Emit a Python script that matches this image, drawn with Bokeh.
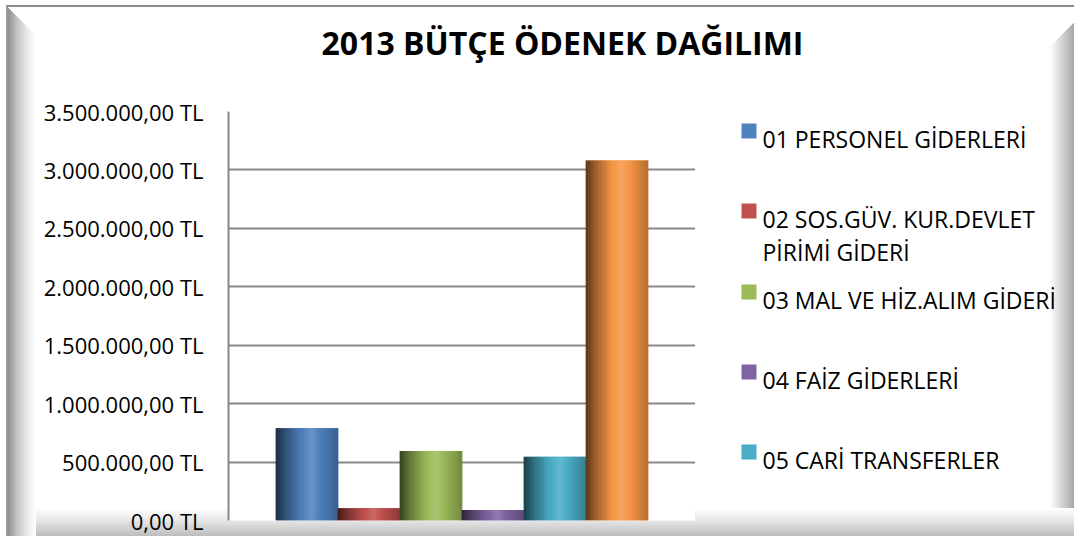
from bokeh.plotting import figure
from bokeh.layouts import column, row
from bokeh.models import Range1d, FixedTicker, ColumnDataSource
from bokeh.core.properties import value
from bokeh.embed import file_html
from bokeh.resources import INLINE

# ---------------- data ----------------
title_text = "2013 BÜTÇE ÖDENEK DAĞILIMI"
categories = ["01 PERSONEL GİDERLERİ", "02 SOS.GÜV. KUR.DEVLET PİRİMİ GİDERİ",
              "03 MAL VE HİZ.ALIM GİDERİ", "04 FAİZ GİDERLERİ",
              "05 CARİ TRANSFERLER", "06 SERMAYE GİDERLERİ"]
values = [790000, 105000, 595000, 90000, 545000, 3080000]
colors = ["#4F81BD", "#C0504D", "#9BBB59", "#8064A2", "#4BACC6", "#F79646"]
# legend of the reference: first five series, the second label wrapped on two lines
legend_lines = [["01 PERSONEL GİDERLERİ"],
                ["02 SOS.GÜV. KUR.DEVLET", "PİRİMİ GİDERİ"],
                ["03 MAL VE HİZ.ALIM GİDERİ"],
                ["04 FAİZ GİDERLERİ"],
                ["05 CARİ TRANSFERLER"]]
y_ticks = [0, 500000, 1000000, 1500000, 2000000, 2500000, 3000000, 3500000]
y_tick_labels = ["0,00 TL", "500.000,00 TL", "1.000.000,00 TL", "1.500.000,00 TL",
                 "2.000.000,00 TL", "2.500.000,00 TL", "3.000.000,00 TL", "3.500.000,00 TL"]

FONT = "Open Sans"
GRID = "#888888"


def bare(fig):
    fig.outline_line_color = None
    fig.background_fill_alpha = 0
    fig.border_fill_alpha = 0
    fig.axis.visible = False
    fig.grid.visible = False
    return fig


# ---------------- title strip ----------------
pt = bare(figure(width=1074, height=95, output_backend="svg", toolbar_location=None,
                 x_range=Range1d(0, 1074), y_range=Range1d(108, 29),
                 min_border=0, min_border_left=0, min_border_right=0,
                 min_border_top=16, min_border_bottom=0))
pt.text(x=[562], y=[55], text=[title_text], text_align="center", text_baseline="alphabetic",
        text_font=value(FONT), text_font_style="bold", text_font_size=value("32px"),
        text_color="#000000")

# ---------------- main chart ----------------
p = figure(width=695, height=441, output_backend="svg", toolbar_location=None,
           x_range=Range1d(-1.266, 6.266), y_range=Range1d(0, 3500000),
           min_border_left=228, min_border_right=0, min_border_top=16, min_border_bottom=16)
p.outline_line_color = None
p.background_fill_color = "white"
p.border_fill_alpha = 0

p.xaxis.visible = False
p.xgrid.visible = False
p.ygrid.ticker = FixedTicker(ticks=y_ticks)
p.ygrid.grid_line_color = GRID
p.ygrid.grid_line_width = 2

p.yaxis.ticker = FixedTicker(ticks=y_ticks)
p.yaxis.major_label_overrides = {t: l for t, l in zip(y_ticks, y_tick_labels)}
p.yaxis.axis_line_color = GRID
p.yaxis.axis_line_width = 2
p.yaxis.major_tick_line_color = GRID
p.yaxis.major_tick_out = 0
p.yaxis.major_tick_in = 0
p.yaxis.minor_tick_line_color = None
p.yaxis.major_label_standoff = 25
p.yaxis.major_label_text_font = FONT
p.yaxis.major_label_text_font_size = "22px"
p.yaxis.major_label_text_color = "#000000"


# ---------------- helpers (styling only) ----------------
def hx(c):
    return int(c[1:3], 16), int(c[3:5], 16), int(c[5:7], 16)


def shade(c, f):
    r, g, b = hx(c)
    if f <= 1:
        r, g, b = r * f, g * f, b * f
    else:
        m = (f - 1) * 1.6
        r, g, b = r + (255 - r) * m, g + (255 - g) * m, b + (255 - b) * m
    return "#%02x%02x%02x" % (int(min(255, r)), int(min(255, g)), int(min(255, b)))


prof_t = [0.0, 0.15, 0.40, 0.58, 0.80, 1.0]
prof_f = [0.35, 0.62, 0.96, 1.10, 0.92, 0.74]


def prof(t):
    for j in range(len(prof_t) - 1):
        if prof_t[j] <= t <= prof_t[j + 1]:
            u = (t - prof_t[j]) / (prof_t[j + 1] - prof_t[j])
            return prof_f[j] + (prof_f[j + 1] - prof_f[j]) * u
    return prof_f[-1]


# ---------------- bars ----------------
positions = list(range(len(values)))
base_src = ColumnDataSource(dict(x=positions, top=values, color=colors, name=categories))
p.vbar(x="x", top="top", bottom=0, width=1.0, fill_color="color", line_color=None, source=base_src)

# cylinder-like shading drawn as thin strips on top of each bar
N = 24
xs_, tops_, cols_ = [], [], []
for i, (v, c) in enumerate(zip(values, colors)):
    for k in range(N):
        t = (k + 0.5) / N
        xs_.append(i - 0.5 + t)
        tops_.append(v)
        cols_.append(shade(c, prof(t)))
src = ColumnDataSource(dict(x=xs_, top=tops_, color=cols_))
p.vbar(x="x", top="top", bottom=0, width=1.3 / N, fill_color="color", line_color=None, source=src)

# ---------------- legend panel ----------------
pl = bare(figure(width=379, height=441, output_backend="svg", toolbar_location=None,
                 x_range=Range1d(695, 1074), y_range=Range1d(529, 120),
                 min_border=0, min_border_left=0, min_border_right=0,
                 min_border_top=16, min_border_bottom=16))
leg_baselines = [147, 227, 308, 388, 468]
line_gap = 33
sq_l, sq_r, sq_t, sq_b, cols_l = [], [], [], [], []
tx, ty, tt = [], [], []
for lines, c, yb in zip(legend_lines, colors, leg_baselines):
    sq_l.append(741)
    sq_r.append(756)
    sq_t.append(yb - 15)
    sq_b.append(yb)
    cols_l.append(c)
    for j, line in enumerate(lines):
        tx.append(762)
        ty.append(yb + line_gap * j)
        tt.append(line)
pl.quad(left=sq_l, right=sq_r, top=sq_t, bottom=sq_b, fill_color=cols_l, line_color=None)
pl.text(x=tx, y=ty, text=tt, text_align="left", text_baseline="alphabetic",
        text_font=value(FONT), text_font_size=value("23px"), text_color="#000000")

layout = column(pt, row(p, pl, spacing=0), spacing=0)

# bevelled frame around the whole chart (CSS background of the layout)
layout.styles = {
    "background": ", ".join([
        "linear-gradient(to bottom left, #ffffff 50%, rgba(255,255,255,0) 50%) 7px 7px / 29px 29px no-repeat",
        "linear-gradient(to bottom right, #ffffff 50%, rgba(255,255,255,0) 50%) 1050px 7px / 40px 40px no-repeat",
        "linear-gradient(#8a8a8a, #8a8a8a) 7px 5px / 1100px 2px no-repeat",
        "linear-gradient(#9a9a9a, #9a9a9a) 6px 5px / 2px 600px no-repeat",
        "linear-gradient(to right, #909090, #c0c0c0 30%, #e6e6e6 65%, #ffffff) 8px 7px / 28px 600px no-repeat",
        "linear-gradient(to bottom, #ffffff, #e6e6e6 45%, #bcbcbc 100%) 8px 508px / 1100px 28px no-repeat",
        "linear-gradient(to right, #ffffff, #dcdcdc 40%, #a6a6a6 100%) 1050px 7px / 24px 600px no-repeat",
        "#ffffff",
    ]),
    "width": "1074px",
    "height": "536px",
}

open("out.html", "w").write(file_html(layout, INLINE))
